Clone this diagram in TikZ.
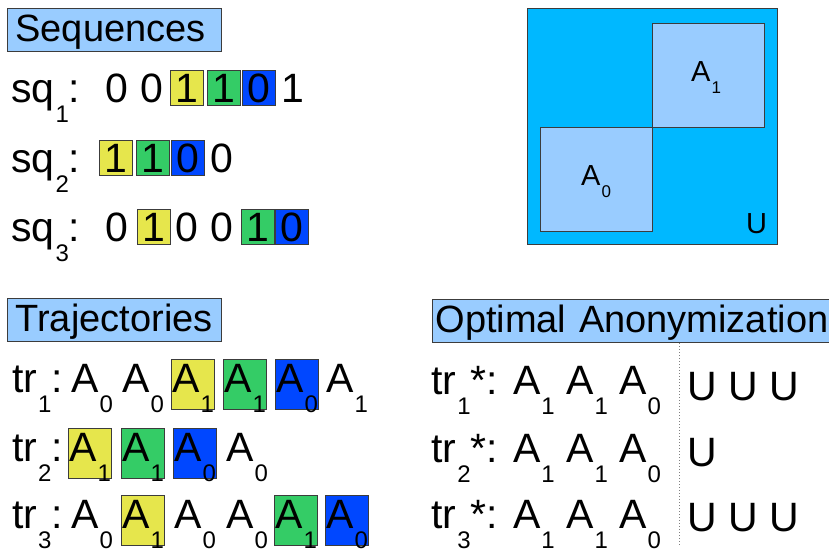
\documentclass[tikz,border=0pt]{standalone}
\usepackage{fontspec}
\setmainfont{Liberation Sans}

\definecolor{headblue}{RGB}{153,204,255}
\definecolor{ucyan}{RGB}{0,184,255}
\definecolor{hlyellow}{RGB}{230,230,76}
\definecolor{hlgreen}{RGB}{52,204,102}
\definecolor{hlblue}{RGB}{0,71,255}
\definecolor{boxline}{RGB}{60,60,60}

% lowered indices
\newcommand\lo[1]{\kern1pt\raisebox{-20pt}{\fontsize{24}{24}\selectfont #1}}
\newcommand\losm[1]{\kern1pt\raisebox{-12pt}{\fontsize{17}{17}\selectfont #1}}

\tikzset{
	txt/.style={inner sep=0pt, font=\fontsize{41}{48}\selectfont},
	smalltxt/.style={inner sep=0pt, anchor=base west, font=\fontsize{29}{34}\selectfont},
	plain/.style={txt, anchor=base},
	digbox/.style={txt, anchor=base, draw=boxline, line width=1pt, minimum width=33pt, text height=32pt, text depth=3pt},
	abox/.style={txt, anchor=base, draw=boxline, line width=1pt, minimum width=43pt, text height=33pt, text depth=17pt},
	ybox/.style={digbox, fill=hlyellow}, gbox/.style={digbox, fill=hlgreen}, bbox/.style={digbox, fill=hlblue},
	ya/.style={abox, fill=hlyellow}, ga/.style={abox, fill=hlgreen}, ba/.style={abox, fill=hlblue},
	head/.style={draw=boxline, fill=headblue, line width=1pt, anchor=north west, inner xsep=8pt, inner ysep=0pt,
		text height=33pt, text depth=10pt, align=left, text width=#1, font=\fontsize{38}{44}\selectfont},
	head/.default=198pt,
	region/.style={draw=boxline, line width=1pt, anchor=north west, inner sep=0pt},
	sepline/.style={gray, dotted, line width=1pt}
}

\begin{document}
\begin{tikzpicture}[x=1pt, y=-1pt]
	\useasboundingbox (0,0) rectangle (829,549);

	% sequences
	\node[head] (hseq) at (7,8) {Sequences};
	\node[txt, anchor=base west] (lsq1) at (11,102) {sq\lo{1}:};
	\node[txt, anchor=base west] (lsq2) at (11,172) {sq\lo{2}:};
	\node[txt, anchor=base west] (lsq3) at (11,241) {sq\lo{3}:};
	\foreach \x/\t/\s [count=\i] in {117/0/plain, 152/0/plain, 187/1/ybox, 224/1/gbox, 259/0/bbox, 293/1/plain} {
			\node[\s] (sqa-\i) at (\x,102) {\t};
		}
	\foreach \x/\t/\s [count=\i] in {116/1/ybox, 153/1/gbox, 188/0/bbox, 222/0/plain} {
			\node[\s] (sqb-\i) at (\x,172) {\t};
		}
	\foreach \x/\t/\s [count=\i] in {117/0/plain, 154/1/ybox, 187/0/plain, 222/0/plain, 258/1/gbox, 292/0/bbox} {
			\node[\s] (sqc-\i) at (\x,241) {\t};
		}

	% space U with the two regions
	\node[region, fill=ucyan, minimum width=250pt, minimum height=236pt] (U) at (527,8) {};
	\node[region, fill=headblue, minimum width=112pt, minimum height=104pt] (A1) at (652,23) {};
	\node[region, fill=headblue, minimum width=112pt, minimum height=104pt] (A0) at (540,127) {};
	\node[smalltxt] (lA1) at (691,81) {A\losm{1}};
	\node[smalltxt] (lA0) at (581,185) {A\losm{0}};
	\node[smalltxt] (lU) at (746,233) {U};

	% trajectories
	\node[head] (htr) at (7,298) {Trajectories};
	\node[txt, anchor=base west] (ltr1) at (12,392) {tr\lo{1}:};
	\node[txt, anchor=base west] (ltr2) at (12,461) {tr\lo{2}:};
	\node[txt, anchor=base west] (ltr3) at (12,528) {tr\lo{3}:};
	\foreach \x/\t/\s [count=\i] in {92/0/plain, 143/0/plain, 193/1/ya, 245/1/ga, 297/0/ba, 347/1/plain} {
			\node[\s] (tra-\i) at (\x,392) {A\lo{\t}};
		}
	\foreach \x/\t/\s [count=\i] in {90/1/ya, 143/1/ga, 195/0/ba, 247/0/plain} {
			\node[\s] (trb-\i) at (\x,461) {A\lo{\t}};
		}
	\foreach \x/\t/\s [count=\i] in {92/0/plain, 143/1/ya, 195/0/plain, 247/0/plain, 296/1/ga, 347/0/ba} {
			\node[\s] (trc-\i) at (\x,528) {A\lo{\t}};
		}

	% optimal anonymization
	\node[head=393pt, inner xsep=3pt] (hopt) at (432,299) {Optimal Anonymization};
	\node[txt, anchor=base west] (opt1) at (431,394) {tr\lo{1}*: A\lo{1} A\lo{1} A\lo{0}};
	\node[txt, anchor=base west] (opt2) at (431,462) {tr\lo{2}*: A\lo{1} A\lo{1} A\lo{0}};
	\node[txt, anchor=base west] (opt3) at (431,528) {tr\lo{3}*: A\lo{1} A\lo{1} A\lo{0}};
	\coordinate (sepTop) at (679,343);
	\coordinate (sepBot) at (679,546);
	\draw[sepline] (sepTop) -- (sepBot);
	\node[txt, anchor=base west] (u1) at (687,400) {U U U};
	\node[txt, anchor=base west] (u2) at (687,466) {U};
	\node[txt, anchor=base west] (u3) at (687,531) {U U U};
\end{tikzpicture}
\end{document}
